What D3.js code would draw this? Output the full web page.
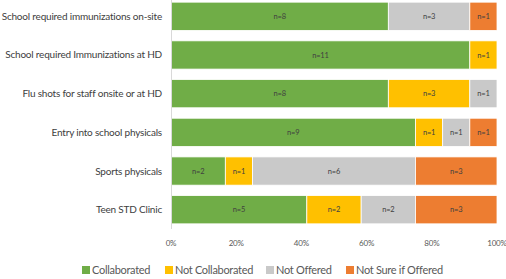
<!DOCTYPE html>
<html>
<head>
<meta charset="utf-8">
<script src="https://cdn.jsdelivr.net/npm/d3@7"></script>
<style>
  body { margin: 0; background: #fff; }
  text { font-family: "Lato", "Roboto", sans-serif; }
</style>
</head>
<body>
<div id="chart"></div>
<script>
// categories (top to bottom) and counts per series
var categories = ["School required immunizations on-site", "School required Immunizations at HD",
  "Flu shots for staff onsite or at HD", "Entry into school physicals", "Sports physicals", "Teen STD Clinic"];
var seriesNames = ["Collaborated", "Not Collaborated", "Not Offered", "Not Sure if Offered"];
var collaborated    = [8, 11, 8, 9, 2, 5];
var notCollaborated = [0, 1, 3, 1, 1, 2];
var notOffered      = [3, 0, 1, 1, 6, 2];
var notSure         = [1, 0, 0, 1, 3, 3];
var tickValues = [0, 0.2, 0.4, 0.6, 0.8, 1];
var colors = ["#70AD47", "#FFC000", "#C9C9C9", "#ED7D31"];

var width = 506, height = 279;
var margin = {top: 1, right: 9, bottom: 52, left: 171};

var svg = d3.select("#chart").append("svg")
    .attr("width", width)
    .attr("height", height);

// build rows with proportions
var rows = categories.map(function(c, i) {
  var vals = [collaborated[i], notCollaborated[i], notOffered[i], notSure[i]];
  var total = d3.sum(vals);
  var row = {category: c, total: total};
  seriesNames.forEach(function(s, j) { row[s] = vals[j] / total; row[s + "_n"] = vals[j]; });
  return row;
});

var stacked = d3.stack().keys(seriesNames)(rows);

var x = d3.scaleLinear().domain([0, 1]).range([margin.left, width - margin.right]);
var y = d3.scaleBand().domain(categories)
    .range([margin.top, height - margin.bottom - 2])
    .paddingInner(0.27).paddingOuter(0.03);

// bars
var layer = svg.selectAll("g.layer")
  .data(stacked)
  .enter().append("g")
    .attr("class", "layer")
    .attr("fill", function(d, i) { return colors[i]; });

layer.selectAll("rect")
  .data(function(d) { return d.map(function(p) { p.key = d.key; return p; }); })
  .enter().append("rect")
    .attr("x", function(d) { return x(d[0]); })
    .attr("y", function(d) { return y(d.data.category); })
    .attr("width", function(d) { return x(d[1]) - x(d[0]); })
    .attr("height", y.bandwidth())
    .attr("stroke", "#fff")
    .attr("stroke-width", 0.8);

// n= labels
layer.selectAll("text")
  .data(function(d) { return d.filter(function(p) { return p.data[p.key + "_n"] > 0; }); })
  .enter().append("text")
    .attr("x", function(d) { return (x(d[0]) + x(d[1])) / 2; })
    .attr("y", function(d) { return y(d.data.category) + y.bandwidth() / 2; })
    .attr("dy", "0.35em")
    .attr("text-anchor", "middle")
    .style("font-size", "7.5px")
    .style("letter-spacing", "-0.2px")
    .style("fill", "#404040")
    .text(function(d) { return "n=" + d.data[d.key + "_n"]; });

// left axis line
svg.append("line")
  .attr("x1", margin.left + 0.5).attr("x2", margin.left + 0.5)
  .attr("y1", 0).attr("y2", height - margin.bottom + 2)
  .attr("stroke", "#D9D9D9").attr("stroke-width", 1);

// category labels
svg.selectAll("text.cat")
  .data(categories)
  .enter().append("text")
    .attr("class", "cat")
    .attr("x", margin.left - 9)
    .attr("y", function(d) { return y(d) + y.bandwidth() / 2; })
    .attr("dy", "0.35em")
    .attr("text-anchor", "end")
    .style("font-size", "10px")
    .style("letter-spacing", "-0.2px")
    .style("fill", "#404040")
    .text(function(d) { return d; });

// x tick labels
svg.selectAll("text.tick")
  .data(tickValues)
  .enter().append("text")
    .attr("class", "tick")
    .attr("x", function(d) { return x(d); })
    .attr("y", 246)
    .attr("text-anchor", "middle")
    .style("font-size", "8px")
    .style("letter-spacing", "-0.2px")
    .style("fill", "#595959")
    .text(d3.format(".0%"));

// legend
var legendX = [82, 165, 266, 346];
var legend = svg.selectAll("g.legend")
  .data(seriesNames)
  .enter().append("g")
    .attr("class", "legend")
    .attr("transform", function(d, i) { return "translate(" + legendX[i] + ",270)"; });

legend.append("rect")
  .attr("x", 0).attr("y", -4)
  .attr("width", 8).attr("height", 8)
  .attr("fill", function(d, i) { return colors[i]; });

legend.append("text")
  .attr("x", 10)
  .attr("dy", "0.37em")
  .style("font-size", "11px")
  .style("letter-spacing", "-0.3px")
  .style("fill", "#595959")
  .text(function(d) { return d; });
</script>
</body>
</html>
